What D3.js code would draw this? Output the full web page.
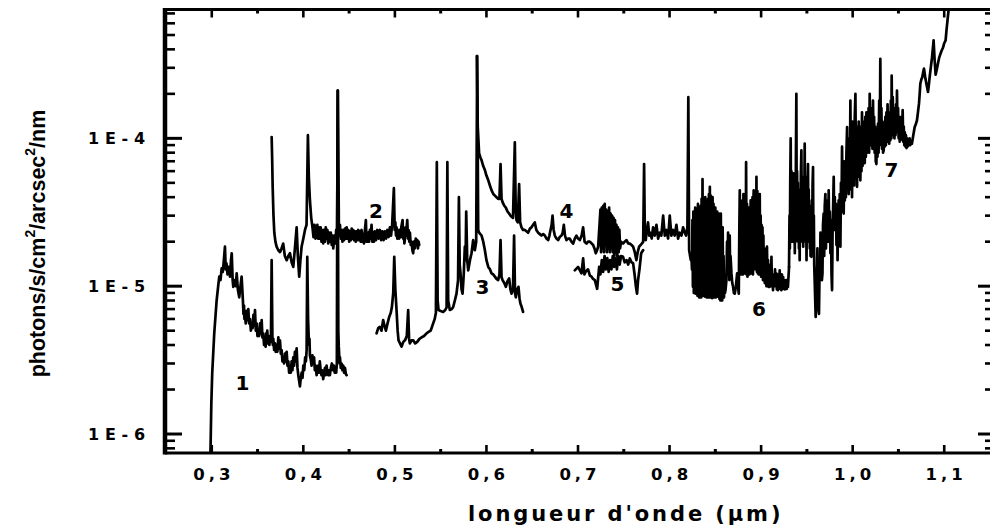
<!DOCTYPE html>
<html>
<head>
<meta charset="utf-8">
<script src="https://cdn.jsdelivr.net/npm/d3@7"></script>
<style>
  html, body { margin: 0; padding: 0; background: #fff; }
  svg { display: block; }
</style>
</head>
<body>
<svg id="chart" width="990" height="530"></svg>
<script>
// Sky brightness spectra, seven wavelength segments: [wavelength (µm), photons/s/cm²/arcsec²/nm]
const spectrum1 = [
  [0.2985,7.0e-7],[0.2995,1.6e-6],[0.3005,2.6e-6],[0.3027,4.8e-6],[0.3053,8.0e-6],[0.3070,1.0e-5],[0.3082,1.16e-5],[0.3095,1.1e-5],
  [0.3108,1.32e-5],[0.3120,1.25e-5],[0.3132,1.5e-5],[0.3144,1.85e-5],[0.3152,1.3e-5],[0.3160,1.43e-5],[0.3172,1.2e-5],[0.3185,1.35e-5],
  [0.3199,1.16e-5],[0.3210,1.5e-5],[0.3218,1.67e-5],[0.3228,1.1e-5],[0.3235,9.9e-6],[0.3250,1.1e-5],[0.3262,1.0e-5],[0.3272,1.22e-5],
  [0.3285,9.5e-6],[0.3300,8.4e-6],[0.3312,9.8e-6],[0.3326,1.16e-5],
  [0.3340,8.0e-6],[0.3346,6.5e-6],[0.3352,7.4e-6],[0.3357,6.0e-6],[0.3362,6.4e-6],[0.3371,5.6e-6],[0.3380,6.8e-6],[0.3390,5.9e-6],
  [0.3399,7.0e-6],[0.3408,5.6e-6],[0.3418,6.0e-6],[0.3427,5.0e-6],[0.3436,5.6e-6],[0.3446,5.2e-6],[0.3455,6.4e-6],[0.3463,5.4e-6],
  [0.3472,6.9e-6],[0.3481,5.0e-6],[0.3490,5.6e-6],[0.3499,4.6e-6],[0.3508,5.0e-6],[0.3518,4.6e-6],[0.3527,5.6e-6],[0.3536,4.8e-6],
  [0.3545,5.9e-6],[0.3553,4.5e-6],[0.3562,4.8e-6],[0.3571,4.0e-6],[0.3580,4.3e-6],[0.3588,3.9e-6],[0.3595,4.8e-6],[0.3600,4.3e-6],
  [0.3606,5.0e-6],[0.3614,4.1e-6],[0.3622,4.6e-6],[0.3629,4.0e-6],[0.3636,4.6e-6],[0.3646,4.2e-6],[0.3654,1.5e-5],[0.3662,4.6e-6],
  [0.3667,4.0e-6],[0.3672,4.4e-6],[0.3681,3.7e-6],[0.3690,4.1e-6],[0.3699,3.6e-6],[0.3708,4.0e-6],[0.3717,3.6e-6],[0.3727,4.5e-6],
  [0.3736,3.8e-6],[0.3745,4.3e-6],[0.3754,3.5e-6],[0.3763,3.7e-6],[0.3772,3.1e-6],[0.3781,3.3e-6],[0.3790,3.0e-6],[0.3800,3.5e-6],
  [0.3809,3.1e-6],[0.3818,3.6e-6],[0.3827,2.9e-6],[0.3836,3.1e-6],[0.3845,2.6e-6],[0.3854,2.8e-6],[0.3863,2.6e-6],[0.3872,3.1e-6],
  [0.3881,2.7e-6],[0.3890,3.3e-6],[0.3899,2.9e-6],[0.3908,3.6e-6],[0.3917,3.1e-6],[0.3927,3.8e-6],[0.3936,2.8e-6],[0.3945,2.5e-6],
  [0.3954,2.3e-6],[0.3963,2.1e-6],[0.3972,2.4e-6],[0.3982,2.6e-6],[0.3991,2.4e-6],[0.4000,2.9e-6],[0.4010,2.7e-6],[0.4020,3.3e-6],
  [0.4028,3.1e-6],[0.4036,3.7e-6],[0.4043,1.58e-5],[0.4052,6.0e-6],[0.4058,4.6e-6],[0.4062,4.0e-6],[0.4067,4.4e-6],[0.4072,3.4e-6],
  [0.4081,3.2e-6],[0.4090,2.9e-6],[0.4099,3.4e-6],[0.4108,3.0e-6],[0.4117,3.3e-6],[0.4126,2.7e-6],[0.4135,2.9e-6],[0.4145,2.5e-6],
  [0.4153,2.8e-6],[0.4162,2.9e-6],[0.4171,2.6e-6],[0.4180,3.1e-6],[0.4189,2.7e-6],[0.4198,2.5e-6],[0.4207,2.7e-6],[0.4217,2.35e-6],
  [0.4226,2.6e-6],[0.4236,2.8e-6],[0.4245,2.5e-6],[0.4254,2.9e-6],[0.4263,2.6e-6],[0.4272,2.5e-6],[0.4281,2.7e-6],[0.4290,2.5e-6],
  [0.4301,2.8e-6],[0.4312,3.0e-6],[0.4323,2.7e-6],[0.4334,2.9e-6],[0.4343,2.6e-6],[0.4352,2.8e-6],[0.4359,2.6e-6],[0.4366,3.0e-6],
  [0.4374,2.1e-4],[0.4382,5.0e-6],[0.4387,3.9e-6],[0.4392,3.4e-6],[0.4396,3.0e-6],[0.4400,3.3e-6],[0.4409,2.8e-6],[0.4418,3.0e-6],
  [0.4427,2.7e-6],[0.4436,2.9e-6],[0.4445,2.6e-6],[0.4455,2.8e-6],[0.4464,2.55e-6],[0.4473,2.5e-6]
];
const spectrum2 = [
  [0.3654,1.02e-4],[0.3660,7.0e-5],[0.3665,4.7e-5],[0.3674,3.0e-5],[0.3683,2.3e-5],[0.3695,2.0e-5],[0.3708,1.85e-5],[0.3727,1.75e-5],
  [0.3745,1.7e-5],[0.3762,1.8e-5],[0.3780,1.94e-5],[0.3798,1.6e-5],[0.3818,1.5e-5],[0.3836,1.6e-5],[0.3854,1.67e-5],[0.3872,1.45e-5],
  [0.3890,1.35e-5],[0.3908,1.8e-5],[0.3927,2.5e-5],[0.3940,1.6e-5],[0.3955,1.16e-5],[0.3968,1.5e-5],[0.3981,1.85e-5],[0.4000,2.1e-5],
  [0.4018,2.4e-5],[0.4035,2.6e-5],[0.4050,1.05e-4],[0.4060,5.5e-5],[0.4072,3.8e-5],[0.4086,2.9e-5],
  [0.4100,2.5e-5],[0.4111,2.15e-5],[0.4122,2.6e-5],[0.4133,2.1e-5],[0.4145,2.3e-5],[0.4153,2.6e-5],[0.4162,2.1e-5],[0.4171,2.5e-5],
  [0.4180,2.1e-5],[0.4189,2.5e-5],[0.4198,2.0e-5],[0.4207,2.4e-5],[0.4217,1.95e-5],[0.4226,2.4e-5],[0.4236,2.0e-5],[0.4245,2.5e-5],
  [0.4254,2.1e-5],[0.4263,2.4e-5],[0.4272,1.95e-5],[0.4281,2.3e-5],[0.4290,2.0e-5],[0.4300,2.3e-5],[0.4310,1.9e-5],[0.4318,2.2e-5],
  [0.4327,1.8e-5],[0.4338,2.2e-5],[0.4350,1.95e-5],[0.4359,2.4e-5],[0.4368,2.1e-5],[0.4378,2.1e-4],[0.4388,2.6e-5],[0.4394,2.2e-5],
  [0.4400,2.6e-5],[0.4409,2.1e-5],[0.4418,2.4e-5],[0.4427,2.0e-5],[0.4436,2.4e-5],[0.4445,2.05e-5],[0.4455,2.45e-5],[0.4464,2.1e-5],
  [0.4473,2.5e-5],[0.4482,2.1e-5],[0.4492,2.4e-5],[0.4501,2.0e-5],[0.4510,2.35e-5],[0.4519,2.05e-5],[0.4528,2.45e-5],[0.4537,2.1e-5],
  [0.4545,2.4e-5],[0.4554,2.05e-5],[0.4563,2.35e-5],[0.4572,2.0e-5],[0.4580,2.35e-5],[0.4590,2.05e-5],[0.4600,2.4e-5],[0.4609,2.05e-5],
  [0.4618,2.35e-5],[0.4627,2.0e-5],[0.4636,2.4e-5],[0.4645,2.0e-5],[0.4654,2.25e-5],[0.4662,1.95e-5],[0.4670,2.3e-5],[0.4683,2.8e-5],
  [0.4690,2.0e-5],[0.4696,2.3e-5],[0.4703,2.0e-5],[0.4709,2.3e-5],[0.4718,2.0e-5],[0.4727,2.4e-5],[0.4736,2.1e-5],[0.4745,2.6e-5],
  [0.4753,2.0e-5],[0.4762,2.3e-5],[0.4771,2.0e-5],[0.4780,2.35e-5],[0.4794,2.05e-5],[0.4808,2.4e-5],[0.4822,2.1e-5],[0.4836,2.4e-5],
  [0.4850,2.05e-5],[0.4863,2.35e-5],[0.4877,2.05e-5],[0.4890,2.35e-5],[0.4904,2.1e-5],[0.4918,2.4e-5],[0.4931,2.15e-5],[0.4945,2.5e-5],
  [0.4958,2.2e-5],[0.4970,2.6e-5],[0.4989,4.6e-5],[0.4998,2.4e-5],[0.5005,2.7e-5],[0.5012,2.2e-5],[0.5018,2.5e-5],[0.5027,2.1e-5],
  [0.5036,2.4e-5],[0.5046,2.1e-5],[0.5055,2.4e-5],[0.5063,2.15e-5],[0.5070,2.5e-5],[0.5084,2.8e-5],[0.5090,2.1e-5],[0.5097,2.3e-5],
  [0.5104,1.95e-5],[0.5110,2.1e-5],[0.5116,2.5e-5],[0.5122,2.2e-5],[0.5135,2.8e-5],[0.5143,2.1e-5],[0.5150,2.4e-5],[0.5157,2.0e-5],
  [0.5164,2.3e-5],[0.5173,1.9e-5],[0.5182,2.0e-5],[0.5191,1.75e-5],[0.5200,1.67e-5],[0.5209,2.0e-5],[0.5218,1.8e-5],[0.5228,2.1e-5],
  [0.5237,1.95e-5],[0.5245,2.05e-5],[0.5252,1.8e-5],[0.5259,2.0e-5],[0.5266,1.9e-5]
];
const spectrum3 = [
  [0.4800,4.8e-6],[0.4818,5.2e-6],[0.4836,5.3e-6],[0.4854,5.0e-6],[0.4872,5.9e-6],[0.4887,5.4e-6],[0.4902,5.0e-6],[0.4920,5.6e-6],
  [0.4938,6.2e-6],[0.4955,6.6e-6],[0.4967,7.2e-6],[0.4982,9.0e-6],[0.4993,1.58e-5],[0.5005,9.5e-6],[0.5018,6.9e-6],[0.5030,5.0e-6],
  [0.5040,4.3e-6],[0.5056,4.1e-6],[0.5073,3.9e-6],[0.5092,4.2e-6],[0.5110,4.3e-6],[0.5130,4.6e-6],[0.5145,6.9e-6],[0.5155,4.4e-6],
  [0.5164,4.1e-6],[0.5182,4.3e-6],[0.5200,4.3e-6],[0.5222,4.1e-6],[0.5244,4.2e-6],[0.5268,4.4e-6],[0.5292,4.5e-6],[0.5318,4.6e-6],
  [0.5346,4.8e-6],[0.5368,4.9e-6],[0.5390,5.0e-6],[0.5405,5.3e-6],[0.5418,5.6e-6],[0.5435,6.0e-6],[0.5448,6.6e-6],[0.5458,6.9e-5],
  [0.5467,8.0e-6],[0.5477,6.9e-6],[0.5500,6.8e-6],[0.5527,6.7e-6],[0.5550,6.9e-6],[0.5565,7.2e-6],[0.5573,6.9e-5],[0.5582,8.0e-6],
  [0.5600,6.9e-6],[0.5620,7.0e-6],[0.5636,7.2e-6],[0.5655,8.0e-6],[0.5673,8.9e-6],[0.5690,1.1e-5],[0.5699,4.0e-5],[0.5708,1.4e-5],
  [0.5717,1.22e-5],[0.5728,9.5e-6],[0.5739,8.9e-6],[0.5752,1.2e-5],[0.5764,1.85e-5],[0.5772,1.5e-5],[0.5779,3.2e-5],[0.5790,1.5e-5],
  [0.5801,1.28e-5],[0.5820,1.5e-5],[0.5837,1.67e-5],[0.5855,2.05e-5],[0.5873,1.75e-5],[0.5888,2.0e-5],[0.5899,3.6e-4],[0.5910,2.4e-5],
  [0.5920,2.3e-5],[0.5947,2.2e-5],[0.5965,2.0e-5],[0.5983,1.75e-5],[0.6000,1.5e-5],[0.6020,1.35e-5],[0.6038,1.3e-5],[0.6056,1.22e-5],
  [0.6075,1.2e-5],[0.6092,1.16e-5],[0.6110,1.12e-5],[0.6128,1.1e-5],[0.6142,1.2e-5],[0.6154,2.05e-5],[0.6165,1.15e-5],[0.6176,1.1e-5],
  [0.6195,1.05e-5],[0.6212,9.9e-6],[0.6230,1.08e-5],[0.6248,1.13e-5],[0.6262,9.5e-6],[0.6274,8.9e-6],[0.6290,9.5e-6],[0.6302,2.2e-5],
  [0.6312,9.0e-6],[0.6321,8.4e-6],[0.6336,9.5e-6],[0.6350,9.9e-6],[0.6362,8.2e-6],[0.6372,7.6e-6],[0.6386,7.2e-6],[0.6400,6.7e-6]
];
const spectrum4 = [
  [0.5895,3.6e-4],[0.5905,1.2e-4],[0.5920,7.9e-5],[0.5935,7.4e-5],[0.5947,7.1e-5],[0.5965,6.5e-5],[0.5983,6.1e-5],[0.6000,5.6e-5],
  [0.6020,5.2e-5],[0.6038,4.8e-5],[0.6056,4.45e-5],[0.6075,4.2e-5],[0.6092,4.1e-5],[0.6110,4.0e-5],[0.6128,3.9e-5],[0.6142,3.9e-5],
  [0.6154,6.7e-5],[0.6165,3.9e-5],[0.6176,3.7e-5],[0.6195,3.5e-5],[0.6212,3.4e-5],[0.6230,3.2e-5],[0.6248,3.1e-5],[0.6262,3.0e-5],
  [0.6274,2.95e-5],[0.6290,2.9e-5],[0.6310,9.4e-5],[0.6320,3.2e-5],[0.6328,2.8e-5],[0.6342,2.7e-5],[0.6357,4.9e-5],[0.6368,2.7e-5],
  [0.6383,2.5e-5],[0.6400,2.4e-5],[0.6419,2.4e-5],[0.6437,2.35e-5],[0.6455,2.3e-5],[0.6475,2.45e-5],[0.6492,2.5e-5],[0.6510,2.6e-5],
  [0.6528,2.7e-5],[0.6545,2.4e-5],[0.6565,2.3e-5],[0.6583,2.25e-5],[0.6601,2.2e-5],[0.6620,2.25e-5],[0.6638,2.2e-5],[0.6656,2.1e-5],
  [0.6674,2.05e-5],[0.6688,2.2e-5],[0.6700,2.4e-5],[0.6712,2.6e-5],[0.6722,3.0e-5],[0.6734,2.4e-5],[0.6747,2.2e-5],[0.6765,2.1e-5],
  [0.6783,2.05e-5],[0.6800,2.15e-5],[0.6820,2.2e-5],[0.6833,2.3e-5],[0.6845,2.6e-5],[0.6858,2.2e-5],[0.6874,2.05e-5],[0.6892,2.1e-5],
  [0.6910,2.1e-5],[0.6928,2.0e-5],[0.6947,1.94e-5],[0.6965,2.1e-5],[0.6983,2.2e-5],[0.7000,2.1e-5],[0.7020,2.05e-5],[0.7040,2.2e-5],
  [0.7056,2.5e-5],[0.7072,2.0e-5],[0.7093,1.94e-5],[0.7110,2.0e-5],[0.7129,2.0e-5],[0.7148,1.95e-5],[0.7165,1.9e-5],[0.7180,1.8e-5],
  [0.7194,1.67e-5],[0.7208,1.75e-5],[0.7220,1.85e-5],[0.7235,2.6e-5],
  [0.7245,3.3e-5],[0.7252,1.7e-5],[0.7260,3.4e-5],[0.7268,1.8e-5],[0.7276,3.5e-5],[0.7284,1.7e-5],[0.7292,3.6e-5],[0.7300,1.9e-5],
  [0.7308,3.3e-5],[0.7316,1.7e-5],[0.7324,3.2e-5],[0.7332,1.8e-5],[0.7340,3.4e-5],[0.7348,1.7e-5],[0.7356,3.1e-5],[0.7364,1.8e-5],
  [0.7372,3.0e-5],[0.7380,1.7e-5],[0.7388,2.9e-5],[0.7396,1.6e-5],[0.7404,2.8e-5],[0.7412,1.7e-5],[0.7420,2.6e-5],[0.7428,1.6e-5],
  [0.7436,2.5e-5],[0.7444,1.7e-5],[0.7452,2.4e-5],[0.7460,1.8e-5],
  [0.7470,2.0e-5],[0.7492,1.94e-5],[0.7510,2.0e-5],[0.7530,2.05e-5],[0.7548,1.95e-5],[0.7566,1.94e-5],[0.7585,1.9e-5],[0.7602,1.85e-5],
  [0.7620,1.7e-5],[0.7638,1.5e-5],[0.7652,1.7e-5],[0.7668,1.85e-5],[0.7697,1.94e-5],[0.7712,2.0e-5],[0.7722,6.7e-5],[0.7730,2.2e-5],
  [0.7740,2.05e-5],[0.7752,2.4e-5],[0.7765,2.7e-5],[0.7778,2.2e-5],[0.7790,2.3e-5],[0.7805,2.1e-5],[0.7820,2.5e-5],[0.7838,2.2e-5],
  [0.7857,2.6e-5],[0.7875,2.1e-5],[0.7893,2.3e-5],[0.7910,2.2e-5],[0.7930,3.0e-5],[0.7948,2.2e-5],[0.7966,2.4e-5],[0.7984,2.1e-5],
  [0.8002,3.0e-5],[0.8020,2.2e-5],[0.8038,2.4e-5],[0.8056,2.2e-5],[0.8075,2.6e-5],[0.8093,2.1e-5],[0.8111,2.3e-5],[0.8130,2.2e-5],
  [0.8148,2.5e-5],[0.8166,2.3e-5],[0.8180,2.2e-5],[0.8195,2.5e-5],[0.8205,1.9e-4],[0.8214,1.75e-5],[0.8225,1.6e-5]
];
const spectrum5 = [
  [0.6965,1.28e-5],[0.7001,1.35e-5],[0.7038,1.22e-5],[0.7056,1.54e-5],[0.7070,1.2e-5],[0.7082,1.25e-5],[0.7110,1.3e-5],[0.7130,1.18e-5],
  [0.7148,1.16e-5],[0.7165,1.12e-5],[0.7184,1.1e-5],[0.7209,9.6e-6],[0.7231,1.35e-5],[0.7245,1.2e-5],[0.7260,1.5e-5],[0.7275,1.25e-5],
  [0.7290,1.6e-5],[0.7305,1.3e-5],[0.7320,1.55e-5],[0.7335,1.25e-5],[0.7350,1.5e-5],[0.7365,1.3e-5],[0.7380,1.6e-5],[0.7395,1.35e-5],
  [0.7410,1.55e-5],[0.7425,1.3e-5],[0.7440,1.6e-5],[0.7455,1.4e-5],[0.7470,1.6e-5],[0.7492,1.58e-5],[0.7510,1.45e-5],[0.7530,1.5e-5],
  [0.7548,1.4e-5],[0.7566,1.54e-5],[0.7585,1.45e-5],[0.7602,1.43e-5],[0.7618,1.2e-5],[0.7632,1.0e-5],[0.7645,8.9e-6],[0.7656,1.1e-5],
  [0.7670,1.28e-5],[0.7690,1.67e-5],[0.7711,1.75e-5]
];
const spectrum6 = [
  [0.8225,1.6e-5],[0.8232,1.5e-5],[0.8239,1.58e-5],[0.8245,1.3e-5],
  [0.8250,2.8e-5],[0.8255,9.9e-6],[0.8260,3.2e-5],[0.8265,9.0e-6],[0.8270,2.6e-5],[0.8275,1.0e-5],[0.8280,3.4e-5],[0.8285,8.9e-6],
  [0.8290,3.0e-5],[0.8295,9.2e-6],[0.8300,3.3e-5],[0.8305,8.6e-6],[0.8310,3.6e-5],[0.8315,9.0e-6],[0.8320,2.9e-5],[0.8325,8.4e-6],
  [0.8330,3.2e-5],[0.8335,8.8e-6],[0.8340,3.5e-5],[0.8345,8.4e-6],[0.8350,3.9e-5],[0.8355,9.0e-6],[0.8360,5.3e-5],[0.8365,8.6e-6],
  [0.8370,3.6e-5],[0.8375,8.9e-6],[0.8380,3.3e-5],[0.8385,8.5e-6],[0.8390,4.0e-5],[0.8395,8.8e-6],[0.8400,3.7e-5],[0.8405,8.4e-6],
  [0.8410,3.4e-5],[0.8415,8.6e-6],[0.8420,3.9e-5],[0.8425,8.4e-6],[0.8430,4.2e-5],[0.8435,8.7e-6],[0.8440,4.7e-5],[0.8445,8.4e-6],
  [0.8450,4.1e-5],[0.8455,8.6e-6],[0.8460,3.8e-5],[0.8465,8.3e-6],[0.8470,4.0e-5],[0.8475,8.6e-6],[0.8480,3.6e-5],[0.8485,8.4e-6],
  [0.8490,3.3e-5],[0.8495,8.5e-6],[0.8500,3.4e-5],[0.8505,8.4e-6],[0.8510,3.0e-5],[0.8515,8.8e-6],[0.8520,3.2e-5],[0.8525,8.5e-6],
  [0.8530,2.8e-5],[0.8535,8.9e-6],[0.8540,3.1e-5],[0.8545,8.2e-6],[0.8550,2.6e-5],[0.8555,8.0e-6],[0.8560,3.1e-5],[0.8565,8.3e-6],
  [0.8570,2.4e-5],[0.8575,8.0e-6],[0.8580,2.5e-5],[0.8585,8.6e-6],[0.8590,1.6e-5],[0.8595,8.4e-6],[0.8600,1.2e-5],[0.8605,9.0e-6],
  [0.8612,9.5e-6],[0.8621,1.1e-5],[0.8628,2.0e-5],[0.8634,1.2e-5],[0.8639,2.3e-5],[0.8644,1.3e-5],[0.8648,2.0e-5],[0.8653,1.1e-5],
  [0.8657,2.2e-5],[0.8662,1.2e-5],[0.8666,1.6e-5],[0.8676,1.22e-5],[0.8685,1.05e-5],[0.8694,9.9e-6],[0.8703,9.0e-6],[0.8712,8.9e-6],
  [0.8725,1.0e-5],[0.8738,1.22e-5],[0.8747,1.0e-5],[0.8756,8.9e-6],
  [0.8762,2.4e-5],[0.8767,4.45e-5],[0.8772,1.4e-5],[0.8777,3.0e-5],[0.8782,1.2e-5],[0.8787,3.4e-5],[0.8792,1.3e-5],[0.8797,3.8e-5],
  [0.8802,1.2e-5],[0.8807,4.2e-5],[0.8812,1.3e-5],[0.8817,3.6e-5],[0.8822,1.22e-5],[0.8827,4.0e-5],[0.8832,1.3e-5],[0.8836,6.9e-5],
  [0.8841,1.2e-5],[0.8846,3.6e-5],[0.8851,1.16e-5],[0.8856,3.0e-5],[0.8861,1.3e-5],[0.8866,3.4e-5],[0.8871,1.2e-5],[0.8876,3.1e-5],
  [0.8881,1.3e-5],[0.8886,3.8e-5],[0.8891,1.22e-5],[0.8896,3.5e-5],[0.8901,1.3e-5],[0.8906,4.0e-5],[0.8911,1.2e-5],[0.8916,3.8e-5],
  [0.8919,4.45e-5],[0.8924,1.3e-5],[0.8929,4.2e-5],[0.8934,1.35e-5],[0.8940,3.6e-5],[0.8945,1.3e-5],[0.8949,5.5e-5],[0.8954,1.25e-5],
  [0.8959,4.4e-5],[0.8964,1.22e-5],[0.8969,4.0e-5],[0.8974,1.2e-5],[0.8979,3.5e-5],[0.8985,4.2e-5],[0.8990,1.2e-5],[0.8995,3.0e-5],
  [0.9000,1.16e-5],[0.9005,2.6e-5],[0.9010,1.2e-5],[0.9015,2.5e-5],[0.9020,1.1e-5],[0.9025,2.2e-5],[0.9030,1.1e-5],[0.9035,1.8e-5],
  [0.9040,1.05e-5],[0.9052,1.5e-5],[0.9058,1.0e-5],[0.9064,1.85e-5],[0.9070,1.0e-5],[0.9075,1.5e-5],[0.9081,9.9e-6],[0.9086,1.2e-5],
  [0.9093,9.9e-6],[0.9100,1.4e-5],[0.9106,1.0e-5],[0.9113,1.58e-5],[0.9118,1.0e-5],[0.9122,1.2e-5],[0.9130,9.4e-6],[0.9137,1.2e-5],
  [0.9145,1.0e-5],[0.9152,1.3e-5],[0.9160,1.0e-5],[0.9166,1.22e-5],[0.9172,9.5e-6],[0.9178,1.15e-5],[0.9184,9.4e-6],[0.9190,1.2e-5],
  [0.9197,9.6e-6],[0.9203,1.28e-5],[0.9209,9.6e-6],[0.9215,1.15e-5],[0.9221,9.4e-6],[0.9228,1.2e-5],[0.9234,9.6e-6],[0.9241,1.15e-5],
  [0.9247,9.8e-6],[0.9253,1.1e-5],[0.9258,9.5e-6],[0.9264,1.05e-5],[0.9269,9.6e-6],[0.9275,1.1e-5],[0.9280,9.6e-6],[0.9287,1.1e-5],
  [0.9293,9.9e-6],[0.9305,1.35e-5]
];
const spectrum7 = [
  [0.9305,1.35e-5],[0.9310,3.0e-5],[0.9314,1.8e-5],[0.9318,5.0e-5],[0.9323,1.0e-4],[0.9327,3.0e-5],[0.9331,6.0e-5],[0.9335,2.0e-5],
  [0.9339,4.5e-5],[0.9343,2.2e-5],[0.9348,5.0e-5],[0.9352,2.0e-5],[0.9356,5.8e-5],[0.9360,2.4e-5],[0.9364,4.5e-5],[0.9368,1.67e-5],
  [0.9372,4.0e-5],[0.9376,2.0e-5],[0.9380,7.0e-5],[0.9385,2.0e-4],[0.9389,3.0e-5],[0.9393,6.0e-5],[0.9397,2.5e-5],[0.9401,5.0e-5],
  [0.9405,2.0e-5],[0.9409,4.5e-5],[0.9413,1.8e-5],[0.9417,3.5e-5],[0.9421,1.5e-5],[0.9425,4.0e-5],[0.9429,2.0e-5],[0.9434,5.5e-5],
  [0.9440,8.3e-5],[0.9444,2.5e-5],[0.9448,5.0e-5],[0.9452,2.0e-5],[0.9456,4.5e-5],[0.9460,1.85e-5],[0.9465,5.5e-5],[0.9470,2.5e-5],
  [0.9476,9.2e-5],[0.9480,3.0e-5],[0.9484,5.5e-5],[0.9488,2.0e-5],[0.9492,4.0e-5],[0.9496,1.5e-5],[0.9500,4.0e-5],[0.9504,2.0e-5],
  [0.9508,5.0e-5],[0.9512,6.7e-5],[0.9516,2.5e-5],[0.9520,4.5e-5],[0.9524,2.0e-5],[0.9528,3.5e-5],[0.9532,1.8e-5],[0.9536,3.2e-5],
  [0.9540,1.6e-5],[0.9545,3.0e-5],[0.9549,1.58e-5],[0.9554,3.8e-5],[0.9558,2.0e-5],[0.9562,4.8e-5],[0.9567,6.4e-5],[0.9571,2.0e-5],
  [0.9576,3.0e-5],[0.9580,1.4e-5],[0.9585,1.1e-5],[0.9591,8.0e-6],[0.9596,6.2e-6],[0.9603,9.0e-6],[0.9610,1.22e-5],[0.9615,1.8e-5],
  [0.9620,8.5e-6],[0.9626,7.0e-6],[0.9632,6.5e-6],[0.9636,1.0e-5],[0.9640,1.5e-5],[0.9644,1.1e-5],[0.9648,2.3e-5],[0.9653,1.3e-5],
  [0.9658,1.9e-5],[0.9664,1.1e-5],[0.9670,1.22e-5],
  [0.9676,2.6e-5],[0.9683,3.1e-5],[0.9689,1.6e-5],[0.9695,3.5e-5],[0.9702,4.2e-5],[0.9708,1.8e-5],[0.9714,3.0e-5],[0.9720,2.05e-5],
  [0.9726,3.8e-5],[0.9732,2.0e-5],[0.9738,4.45e-5],[0.9744,2.2e-5],[0.9750,3.2e-5],[0.9757,1.67e-5],[0.9763,2.8e-5],[0.9769,1.2e-5],
  [0.9775,9.4e-6],[0.9781,2.5e-5],[0.9787,3.5e-5],[0.9793,5.5e-5],[0.9799,2.4e-5],[0.9805,4.0e-5],[0.9811,2.5e-5],[0.9817,3.6e-5],
  [0.9823,1.9e-5],[0.9829,3.2e-5],[0.9835,1.5e-5],[0.9841,3.0e-5],[0.9847,3.8e-5],[0.9853,2.2e-5],[0.9859,4.2e-5],[0.9866,1.85e-5],
  [0.9872,5.0e-5],[0.9878,3.2e-5],[0.9884,8.8e-5],[0.9890,3.6e-5],[0.9896,6.5e-5],[0.9902,3.1e-5],[0.9908,7.0e-5],[0.9914,3.8e-5],
  [0.9920,5.8e-5],[0.9926,4.0e-5],[0.9932,8.0e-5],[0.9939,1.19e-4],[0.9945,4.5e-5],[0.9951,9.0e-5],[0.9957,4.2e-5],[0.9963,1.0e-4],
  [0.9969,4.5e-5],[0.9975,1.8e-4],[0.9981,5.0e-5],[0.9987,1.1e-4],[0.9993,4.0e-5],[0.9999,1.3e-4],[1.0005,5.0e-5],[1.0011,8.3e-5],
  [1.0017,4.8e-5],[1.0023,1.4e-4],[1.0030,2.0e-4],[1.0036,6.0e-5],[1.0042,1.2e-4],[1.0048,4.7e-5],[1.0054,1.1e-4],[1.0060,5.5e-5],
  [1.0066,1.3e-4],[1.0072,5.8e-5],[1.0078,1.0e-4],[1.0084,5.2e-5],[1.0090,1.2e-4],[1.0096,6.0e-5],[1.0102,1.5e-4],[1.0108,6.5e-5],
  [1.0114,1.2e-4],[1.0120,7.1e-5],[1.0126,1.3e-4],[1.0132,6.8e-5],[1.0138,1.4e-4],[1.0144,7.5e-5],[1.0150,1.5e-4],[1.0156,8.0e-5],
  [1.0162,1.3e-4],[1.0168,8.3e-5],[1.0174,1.6e-4],[1.0180,8.0e-5],[1.0186,2.0e-4],[1.0192,9.0e-5],[1.0198,1.6e-4],[1.0204,1.0e-4],
  [1.0210,1.5e-4],[1.0216,8.5e-5],[1.0222,1.8e-4],[1.0228,9.0e-5],[1.0234,1.4e-4],[1.0240,8.0e-5],[1.0246,1.2e-4],[1.0252,7.0e-5],
  [1.0259,6.7e-5],[1.0265,1.1e-4],[1.0271,7.5e-5],[1.0277,1.26e-4],[1.0283,8.0e-5],[1.0290,1.8e-4],[1.0296,9.0e-5],[1.0302,3.45e-4],
  [1.0308,1.0e-4],[1.0314,1.6e-4],[1.0320,8.5e-5],[1.0326,1.3e-4],[1.0332,8.0e-5],[1.0339,8.3e-5],[1.0345,1.2e-4],[1.0351,8.8e-5],
  [1.0357,1.4e-4],[1.0363,9.0e-5],[1.0369,1.5e-4],[1.0375,9.5e-5],[1.0381,1.7e-4],[1.0387,1.0e-4],[1.0393,1.5e-4],[1.0399,9.2e-5],
  [1.0405,1.4e-4],[1.0411,9.7e-5],[1.0417,1.8e-4],[1.0423,1.0e-4],[1.0426,2.66e-4],[1.0432,1.1e-4],[1.0438,1.9e-4],[1.0444,1.05e-4],
  [1.0450,1.6e-4],[1.0456,1.0e-4],[1.0462,1.5e-4],[1.0468,1.05e-4],[1.0474,1.7e-4],[1.0480,1.1e-4],[1.0484,2.1e-4],[1.0490,1.1e-4],
  [1.0496,1.6e-4],[1.0502,1.0e-4],[1.0508,1.4e-4],[1.0514,9.5e-5],[1.0520,1.3e-4],[1.0526,9.8e-5],[1.0532,1.4e-4],[1.0538,1.0e-4],
  [1.0546,1.55e-4],[1.0552,9.5e-5],[1.0558,1.2e-4],[1.0564,9.0e-5],[1.0570,1.1e-4],[1.0576,8.8e-5],[1.0582,1.05e-4],[1.0588,8.6e-5],
  [1.0594,1.0e-4],[1.0600,8.8e-5],[1.0608,9.8e-5],[1.0615,9.0e-5],[1.0622,1.0e-4],[1.0630,9.0e-5],[1.0638,9.6e-5],[1.0647,9.2e-5],
  [1.0662,1.05e-4],[1.0677,1.19e-4],[1.0690,1.25e-4],[1.0702,1.32e-4],[1.0713,1.5e-4],[1.0724,1.71e-4],[1.0732,2.0e-4],[1.0739,2.34e-4],
  [1.0750,2.5e-4],[1.0761,2.6e-4],[1.0770,2.8e-4],[1.0779,2.96e-4],[1.0792,2.6e-4],[1.0805,2.34e-4],[1.0814,2.2e-4],[1.0823,2.06e-4],
  [1.0832,2.3e-4],[1.0841,2.6e-4],[1.0853,3.0e-4],[1.0866,3.5e-4],[1.0875,4.0e-4],[1.0884,4.6e-4],[1.0895,3.4e-4],[1.0906,2.7e-4],
  [1.0918,2.9e-4],[1.0931,3.2e-4],[1.0944,3.5e-4],[1.0957,3.7e-4],[1.0970,3.9e-4],[1.0986,4.1e-4],[1.1000,4.4e-4],[1.1015,4.6e-4],
  [1.1025,5.4e-4],[1.1035,6.2e-4],[1.1047,7.3e-4],[1.1060,7.6e-4]
];
const spectra = [spectrum1, spectrum2, spectrum3, spectrum4, spectrum5, spectrum6, spectrum7];

// Segment numbers and where they are written (wavelength, flux)
const segmentNames = ["1", "2", "3", "4", "5", "6", "7"];
const segmentLabelAt = [
  [0.3336, 2.23e-6], [0.4794, 3.27e-5], [0.5957, 1.0e-5], [0.6874, 3.27e-5],
  [0.7431, 1.05e-5], [0.8977, 7.05e-6], [1.0424, 6.13e-5]
];

// Axis ticks and labels
const xMajorTicks = [0.3, 0.4, 0.5, 0.6, 0.7, 0.8, 0.9, 1.0, 1.1];
const xMajorLabels = ["0,3", "0,4", "0,5", "0,6", "0,7", "0,8", "0,9", "1,0", "1,1"];
const xMinorTicks = [0.35, 0.45, 0.55, 0.65, 0.75, 0.85, 0.95, 1.05];
const yMajorTicks = [1e-6, 1e-5, 1e-4];
const yMajorLabels = ["1E-6", "1E-5", "1E-4"];
const xDomain = [0.25, 1.15];
const yDomain = [7.44e-7, 7.44e-4];
const xTitle = "longueur d'onde (µm)";

const svg = d3.select("#chart");
const plotLeft = 165, plotRight = 990, plotTop = 9.5, plotBottom = 453;
const x = d3.scaleLinear().domain(xDomain).range([166, 990]);
const y = d3.scaleLog().domain(yDomain).range([plotBottom, plotTop]);

// minor ticks on the log axis: 2..9 of each decade that lies in the domain
const yMinorTicks = [];
for (let e = -7; e <= -4; e++) {
  for (let m = 2; m <= 9; m++) {
    const v = m * Math.pow(10, e);
    if (v > yDomain[0] && v < yDomain[1]) yMinorTicks.push(v);
  }
}

svg.append("clipPath").attr("id", "plotclip")
  .append("rect").attr("x", plotLeft).attr("y", plotTop)
  .attr("width", plotRight - plotLeft).attr("height", plotBottom - plotTop);

// spectra
const line = d3.line().x(d => x(d[0])).y(d => y(d[1]));
svg.append("g").attr("clip-path", "url(#plotclip)")
  .selectAll("path").data(spectra).join("path")
  .attr("d", line)
  .attr("fill", "none")
  .attr("stroke", "#000")
  .attr("stroke-width", 2.7)
  .attr("stroke-linejoin", "round")
  .attr("stroke-linecap", "round");

// frame
const frame = svg.append("g").attr("stroke", "#000").attr("fill", "none");
frame.append("line").attr("x1", plotLeft).attr("x2", plotLeft).attr("y1", plotTop - 1.5).attr("y2", plotBottom + 1.5).attr("stroke-width", 4.5);
frame.append("line").attr("x1", plotLeft).attr("x2", 992).attr("y1", plotBottom).attr("y2", plotBottom).attr("stroke-width", 3);
frame.append("line").attr("x1", plotLeft).attr("x2", 992).attr("y1", plotTop).attr("y2", plotTop).attr("stroke-width", 3);
frame.append("line").attr("x1", 993).attr("x2", 993).attr("y1", plotTop).attr("y2", plotBottom).attr("stroke-width", 3);

// y ticks on both sides, pointing into the plot
const ticks = svg.append("g").attr("stroke", "#000");
ticks.selectAll(".ymaj").data(yMajorTicks).join("line")
  .attr("x1", plotLeft).attr("x2", plotLeft + 17).attr("y1", d => y(d)).attr("y2", d => y(d)).attr("stroke-width", 3);
ticks.selectAll(".ymin").data(yMinorTicks).join("line")
  .attr("x1", plotLeft).attr("x2", plotLeft + 10).attr("y1", d => y(d)).attr("y2", d => y(d)).attr("stroke-width", 2.6);
ticks.selectAll(".ymajr").data(yMajorTicks).join("line")
  .attr("x1", 990).attr("x2", 978).attr("y1", d => y(d)).attr("y2", d => y(d)).attr("stroke-width", 3);
ticks.selectAll(".yminr").data(yMinorTicks).join("line")
  .attr("x1", 990).attr("x2", 985).attr("y1", d => y(d)).attr("y2", d => y(d)).attr("stroke-width", 2.6);

// x ticks: bottom pointing up, top pointing down
ticks.selectAll(".xmaj").data(xMajorTicks).join("line")
  .attr("x1", d => x(d)).attr("x2", d => x(d)).attr("y1", plotBottom).attr("y2", plotBottom - 8).attr("stroke-width", 2.6);
ticks.selectAll(".xmin").data(xMinorTicks).join("line")
  .attr("x1", d => x(d)).attr("x2", d => x(d)).attr("y1", plotBottom).attr("y2", plotBottom - 4).attr("stroke-width", 3);
ticks.selectAll(".xmajt").data(xMajorTicks).join("line")
  .attr("x1", d => x(d)).attr("x2", d => x(d)).attr("y1", plotTop).attr("y2", plotTop + 8).attr("stroke-width", 2.6);
ticks.selectAll(".xmint").data(xMinorTicks).join("line")
  .attr("x1", d => x(d)).attr("x2", d => x(d)).attr("y1", plotTop).attr("y2", plotTop + 4).attr("stroke-width", 3);

const font = "'DejaVu Sans', 'Liberation Sans', sans-serif";

// tick labels (trailing letter-spacing is compensated in the anchor position)
svg.append("g").selectAll("text").data(yMajorTicks).join("text")
  .attr("x", 151).attr("y", d => y(d) + 5.8)
  .attr("text-anchor", "end")
  .attr("font-family", font).attr("font-weight", "bold").attr("font-size", 16)
  .attr("letter-spacing", 5.8)
  .text((d, i) => yMajorLabels[i]);

svg.append("g").selectAll("text").data(xMajorTicks).join("text")
  .attr("x", d => x(d) + 2).attr("y", 480)
  .attr("text-anchor", "middle")
  .attr("font-family", font).attr("font-weight", "bold").attr("font-size", 16.5)
  .attr("letter-spacing", 4)
  .text((d, i) => xMajorLabels[i]);

// segment numbers
svg.append("g").selectAll("text").data(segmentLabelAt).join("text")
  .attr("x", d => x(d[0])).attr("y", d => y(d[1]) + 7.5)
  .attr("text-anchor", "middle")
  .attr("font-family", font).attr("font-weight", "bold").attr("font-size", 20)
  .text((d, i) => segmentNames[i]);

// axis titles
svg.append("text")
  .attr("x", 468).attr("y", 521)
  .attr("font-family", font).attr("font-weight", "bold").attr("font-size", 21)
  .attr("letter-spacing", 2.9)
  .text(xTitle);

const yt = svg.append("text")
  .attr("transform", "translate(45,243.5) rotate(-90)")
  .attr("text-anchor", "middle")
  .attr("font-family", "'Liberation Sans Narrow', 'Liberation Sans', sans-serif")
  .attr("font-weight", "bold").attr("font-size", 21.5);
yt.append("tspan").text("photons/s/cm");
yt.append("tspan").attr("font-size", 14).attr("dy", -10).text("2");
yt.append("tspan").attr("dy", 10).text("/arcsec");
yt.append("tspan").attr("font-size", 14).attr("dy", -10).text("2");
yt.append("tspan").attr("dy", 10).text("/nm");
</script>
</body>
</html>
